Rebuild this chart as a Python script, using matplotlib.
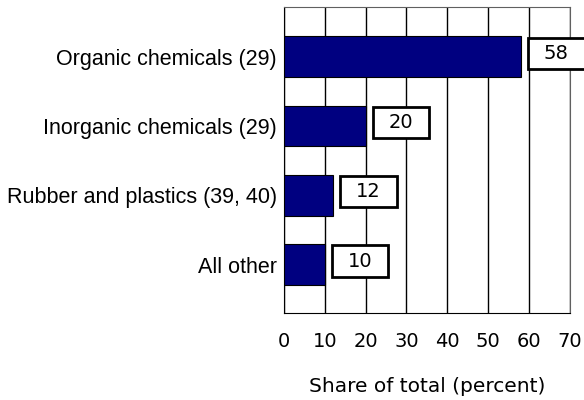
import matplotlib
matplotlib.use("Agg")
import matplotlib.pyplot as plt
from matplotlib.patches import Rectangle

categories = ["Organic chemicals (29)", "Inorganic chemicals (29)",
              "Rubber and plastics (39, 40)", "All other"]
shares = [58, 20, 12, 10]
xticks = [0, 10, 20, 30, 40, 50, 60, 70]

fig = plt.figure(figsize=(5.84, 4.0), dpi=100)
ax = fig.add_axes([0.486, 0.2175, 0.49, 0.765])

ypos = list(range(len(categories)))
ax.barh(ypos, shares, height=0.59, color="#000080", edgecolor="black",
        linewidth=0.8, zorder=3)

# value boxes to the right of each bar
for y, v in zip(ypos, shares):
    x0 = v + 1.7
    w = 13.9
    ax.add_patch(Rectangle((x0, y - 0.05 - 0.225), w, 0.45, facecolor="white",
                           edgecolor="black", linewidth=2, zorder=4,
                           clip_on=False))
    ax.text(x0 + w / 2, y - 0.05, str(v), ha="center", va="center",
            fontsize=14, family="DejaVu Sans", zorder=5, clip_on=False)

ax.set_xlim(0, 70)
ax.set_ylim(3.70, -0.72)
ax.set_xticks(xticks)
ax.set_xticklabels([str(t) for t in xticks], fontsize=14, family="DejaVu Sans")
ax.set_yticks(ypos)
ax.set_yticklabels(categories, fontsize=15.5, family="Liberation Sans")
ax.tick_params(axis="both", length=0)
ax.tick_params(axis="x", pad=14)
ax.tick_params(axis="y", pad=5)

ax.grid(axis="x", color="black", linewidth=1, zorder=0)
ax.set_axisbelow(True)
for side in ["left", "bottom"]:
    ax.spines[side].set_color("black")
for side in ["top", "right"]:
    ax.spines[side].set_color("#606060")

ax.set_xlabel("Share of total (percent)", fontsize=14.5, family="DejaVu Sans",
              va="center")
ax.xaxis.set_label_coords(0.5, -0.2386)

fig.savefig("out.png", dpi=100)
